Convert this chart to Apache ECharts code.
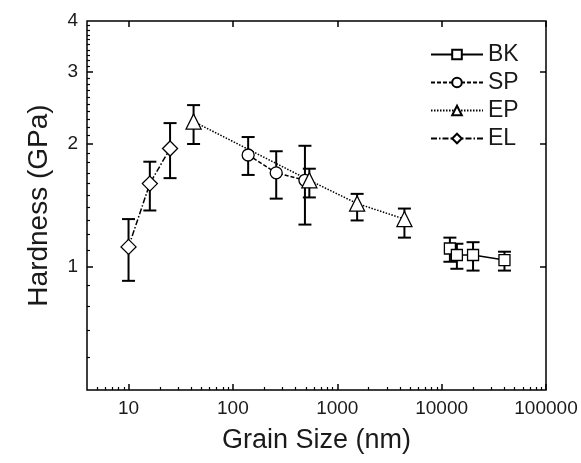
<!DOCTYPE html>
<html>
<head>
<meta charset="utf-8">
<script src="https://cdn.jsdelivr.net/npm/echarts@6/dist/echarts.min.js"></script>
<style>
html,body{margin:0;padding:0;background:#fff;}
#chart{width:581px;height:463px;}
</style>
</head>
<body>
<div id="chart"></div>
<script>
// ---- data ----
const bkX  = [12000, 14000, 20000, 40000];
const bkY  = [1.11, 1.07, 1.07, 1.04];
const bkHi = [1.18, 1.14, 1.15, 1.09];
const bkLo = [1.03, 0.99, 0.98, 0.98];

const spX  = [140, 260, 490];
const spY  = [1.88, 1.70, 1.63];
const spHi = [2.08, 1.92, 1.98];
const spLo = [1.68, 1.47, 1.27];

const epX  = [42, 540, 1550, 4400];
const epY  = [2.27, 1.63, 1.43, 1.31];
const epHi = [2.49, 1.74, 1.51, 1.39];
const epLo = [2.00, 1.48, 1.30, 1.18];

const elX  = [10, 16, 25];
const elY  = [1.12, 1.60, 1.95];
const elHi = [1.31, 1.81, 2.25];
const elLo = [0.925, 1.375, 1.65];

// ---- axis ticks / labels ----
const xMajor = [10, 100, 1000, 10000, 100000];
const xMinor = [5, 6, 7, 8, 9,
  20, 30, 40, 50, 60, 70, 80, 90,
  200, 300, 400, 500, 600, 700, 800, 900,
  2000, 3000, 4000, 5000, 6000, 7000, 8000, 9000,
  20000, 30000, 40000, 50000, 60000, 70000, 80000, 90000];
const yLabels = [1, 2, 3, 4];
const yMajor = [1, 2, 3];
const yMinor = [0.6, 0.7, 0.8, 0.9,
  1.1, 1.2, 1.3, 1.4, 1.5, 1.6, 1.7, 1.8, 1.9,
  2.1, 2.2, 2.3, 2.4, 2.5, 2.6, 2.7, 2.8, 2.9,
  3.1, 3.2, 3.3, 3.4, 3.5, 3.6, 3.7, 3.8, 3.9];

const FONT = '"Liberation Sans", Arial, Helvetica, sans-serif';
const TXT = '#1a1a1a';

function pts(xs, ys) { return xs.map((x, i) => [x, ys[i]]); }
function errs(xs, lo, hi) { return xs.map((x, i) => [x, lo[i], hi[i]]); }

function errSeries(name, data) {
  return {
    name: name, type: 'custom', xAxisIndex: 0, yAxisIndex: 0, z: 2,
    silent: true,
    encode: { x: 0, y: [1, 2] },
    data: data,
    renderItem: function (params, api) {
      const x = api.value(0);
      const lo = api.coord([x, api.value(1)]);
      const hi = api.coord([x, api.value(2)]);
      const cap = 6.5;
      const st = { stroke: '#000', lineWidth: 2 };
      return {
        type: 'group',
        children: [
          { type: 'line', shape: { x1: lo[0], y1: lo[1], x2: hi[0], y2: hi[1] }, style: st },
          { type: 'line', shape: { x1: lo[0] - cap, y1: lo[1], x2: lo[0] + cap, y2: lo[1] }, style: st },
          { type: 'line', shape: { x1: hi[0] - cap, y1: hi[1], x2: hi[0] + cap, y2: hi[1] }, style: st }
        ]
      };
    }
  };
}

function lineSeries(name, data, symbol, size, type) {
  return {
    name: name, type: 'line', xAxisIndex: 0, yAxisIndex: 0, z: 3,
    data: data, symbol: symbol, symbolSize: size,
    showAllSymbol: true,
    lineStyle: { color: '#000', width: 1.5, type: type },
    itemStyle: { color: '#fff', borderColor: '#000', borderWidth: 1.3 },
    emphasis: { disabled: true },
    animation: false
  };
}

const xBase = { type: 'log', logBase: 10, min: 4, max: 100000, gridIndex: 0, splitLine: { show: false } };
const yBase = { type: 'log', logBase: 10, min: 0.5, max: 4, gridIndex: 0, splitLine: { show: false } };

const chart = echarts.init(document.getElementById('chart'), null, { renderer: 'canvas' });
chart.setOption({
  animation: false,
  backgroundColor: '#fff',
  grid: { left: 87, right: 35, top: 21, bottom: 73, show: true, borderColor: '#000', borderWidth: 1.5, backgroundColor: 'transparent' },
  legend: {
    data: ['BK', 'SP', 'EP', 'EL'],
    orient: 'vertical', left: 430, top: 43, padding: 0,
    itemWidth: 52, itemHeight: 12, itemGap: 5,
    selectedMode: false,
    textStyle: { fontFamily: FONT, fontSize: 23, color: TXT }
  },
  xAxis: [
    Object.assign({}, xBase, {
      position: 'bottom',
      axisLine: { show: false },
      axisTick: { show: true, inside: true, length: 6, customValues: xMajor, lineStyle: { color: '#000', width: 1.5 } },
      axisLabel: { show: true, customValues: xMajor, margin: 9, fontFamily: FONT, fontSize: 19, color: TXT,
        formatter: function (v) { return String(Math.round(v)); } },
      name: 'Grain Size (nm)', nameLocation: 'middle', nameGap: 37,
      nameTextStyle: { fontFamily: FONT, fontSize: 27, color: TXT }
    }),
    Object.assign({}, xBase, {
      position: 'bottom',
      axisLine: { show: false },
      axisTick: { show: true, inside: true, length: 3, customValues: xMinor, lineStyle: { color: '#000', width: 1.2 } },
      axisLabel: { show: false }
    }),
    Object.assign({}, xBase, {
      position: 'top',
      axisLine: { show: false },
      axisTick: { show: true, inside: true, length: 6, customValues: xMajor, lineStyle: { color: '#000', width: 1.5 } },
      axisLabel: { show: false }
    })
  ],
  yAxis: [
    Object.assign({}, yBase, {
      position: 'left',
      axisLine: { show: false },
      axisTick: { show: true, inside: true, length: 6, customValues: yMajor, lineStyle: { color: '#000', width: 1.5 } },
      axisLabel: { show: true, customValues: yLabels, margin: 9, fontFamily: FONT, fontSize: 19, color: TXT,
        formatter: function (v) { return String(Math.round(v)); } },
      name: 'Hardness (GPa)', nameLocation: 'middle', nameGap: 34, nameRotate: 90,
      nameTextStyle: { fontFamily: FONT, fontSize: 28, color: TXT }
    }),
    Object.assign({}, yBase, {
      position: 'left',
      axisLine: { show: false },
      axisTick: { show: true, inside: true, length: 3, customValues: yMinor, lineStyle: { color: '#000', width: 1.2 } },
      axisLabel: { show: false }
    }),
    Object.assign({}, yBase, {
      position: 'right',
      axisLine: { show: false },
      axisTick: { show: true, inside: true, length: 6, customValues: yMajor, lineStyle: { color: '#000', width: 1.5 } },
      axisLabel: { show: false }
    })
  ],
  series: [
    errSeries('BK err', errs(bkX, bkLo, bkHi)),
    errSeries('SP err', errs(spX, spLo, spHi)),
    errSeries('EP err', errs(epX, epLo, epHi)),
    errSeries('EL err', errs(elX, elLo, elHi)),
    lineSeries('BK', pts(bkX, bkY), 'rect', 11, 'solid'),
    lineSeries('SP', pts(spX, spY), 'circle', 12, [4, 2]),
    lineSeries('EP', pts(epX, epY), 'triangle', 15, [1.5, 1.5]),
    lineSeries('EL', pts(elX, elY), 'diamond', 15, [6, 2, 1.5, 2])
  ]
});
</script>
</body>
</html>
